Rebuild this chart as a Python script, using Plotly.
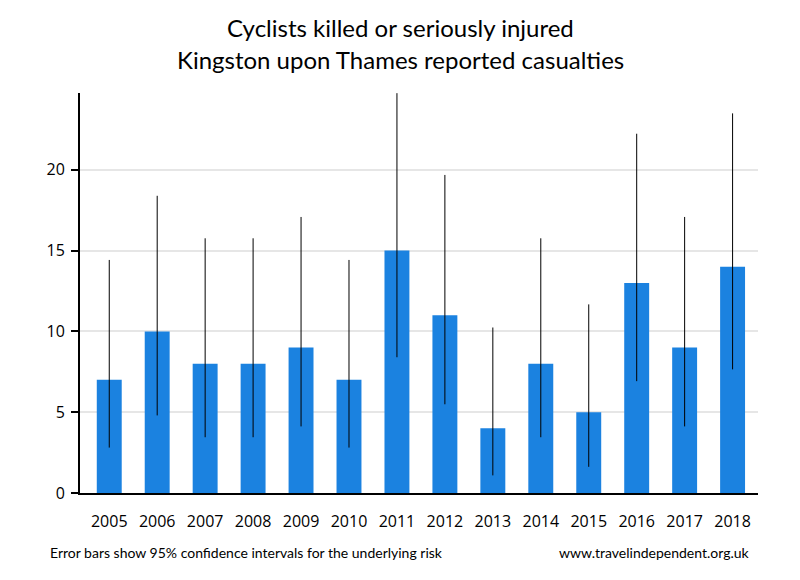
import plotly.graph_objects as go

years = ["2005", "2006", "2007", "2008", "2009", "2010", "2011",
         "2012", "2013", "2014", "2015", "2016", "2017", "2018"]
casualties = [7, 10, 8, 8, 9, 7, 15, 11, 4, 8, 5, 13, 9, 14]
ci_lower = [2.81, 4.80, 3.45, 3.45, 4.12, 2.81, 8.40, 5.49, 1.09, 3.45, 1.62, 6.92, 4.12, 7.65]
ci_upper = [14.42, 18.39, 15.76, 15.76, 17.08, 14.42, 24.74, 19.68, 10.24, 15.76, 11.67, 22.23, 17.08, 23.49]

err_plus = [u - v for u, v in zip(ci_upper, casualties)]
err_minus = [v - l for v, l in zip(casualties, ci_lower)]

# page body has an 8px margin; compensate so the plot lands where the reference has it
OFF = 8
pl, pr, pt, pb = 80 - OFF, 758 - OFF, 93 - OFF, 493 - OFF
W, H = 800, 580

fig = go.Figure()
fig.add_trace(go.Bar(
    x=years, y=casualties,
    marker=dict(color="#1b82e0", line=dict(width=0)),
    width=0.52,
    error_y=dict(type="data", symmetric=False, array=err_plus, arrayminus=err_minus,
                 color="black", thickness=1, width=0),
))

fig.update_layout(
    width=W, height=H,
    margin=dict(l=pl, r=W - pr, t=pt, b=H - pb),
    paper_bgcolor="white", plot_bgcolor="white",
    showlegend=False,
    font=dict(family="Open Sans", color="black"),
    xaxis=dict(
        type="category", range=[-0.61, 13.53],
        showline=True, linecolor="black", linewidth=2,
        showgrid=False, ticks="", ticklabelstandoff=13,
        tickfont=dict(size=16, family="Open Sans"),
    ),
    yaxis=dict(
        range=[0, 24.75], tickvals=[0, 5, 10, 15, 20],
        showline=True, linecolor="black", linewidth=2,
        showgrid=True, gridcolor="#e6e6e6", gridwidth=1.5,
        ticks="outside", ticklen=7, tickcolor="black", tickwidth=2,
        ticklabelstandoff=3,
        tickfont=dict(size=16, family="Open Sans"),
        zeroline=False,
    ),
)

def px_to_paper(x, y):
    return (x - OFF - pl) / (pr - pl), (pb - (y - OFF)) / (pb - pt)

notes = [
    ("Cyclists killed or seriously injured", 400, 28, "center", 24),
    ("Kingston upon Thames reported casualties", 400, 60, "center", 24),
    ("Error bars show 95% confidence intervals for the underlying risk", 48, 552, "left", 14),
    ("www.travelindependent.org.uk", 752, 552, "right", 14),
]
for text, x, y, anchor, size in notes:
    ax, ay = px_to_paper(x, y)
    fig.add_annotation(text=text, x=ax, y=ay, xref="paper", yref="paper",
                       xanchor=anchor, yanchor="middle", showarrow=False,
                       font=dict(size=size, family="Lato", color="black"))

fig.write_html("out.html")
